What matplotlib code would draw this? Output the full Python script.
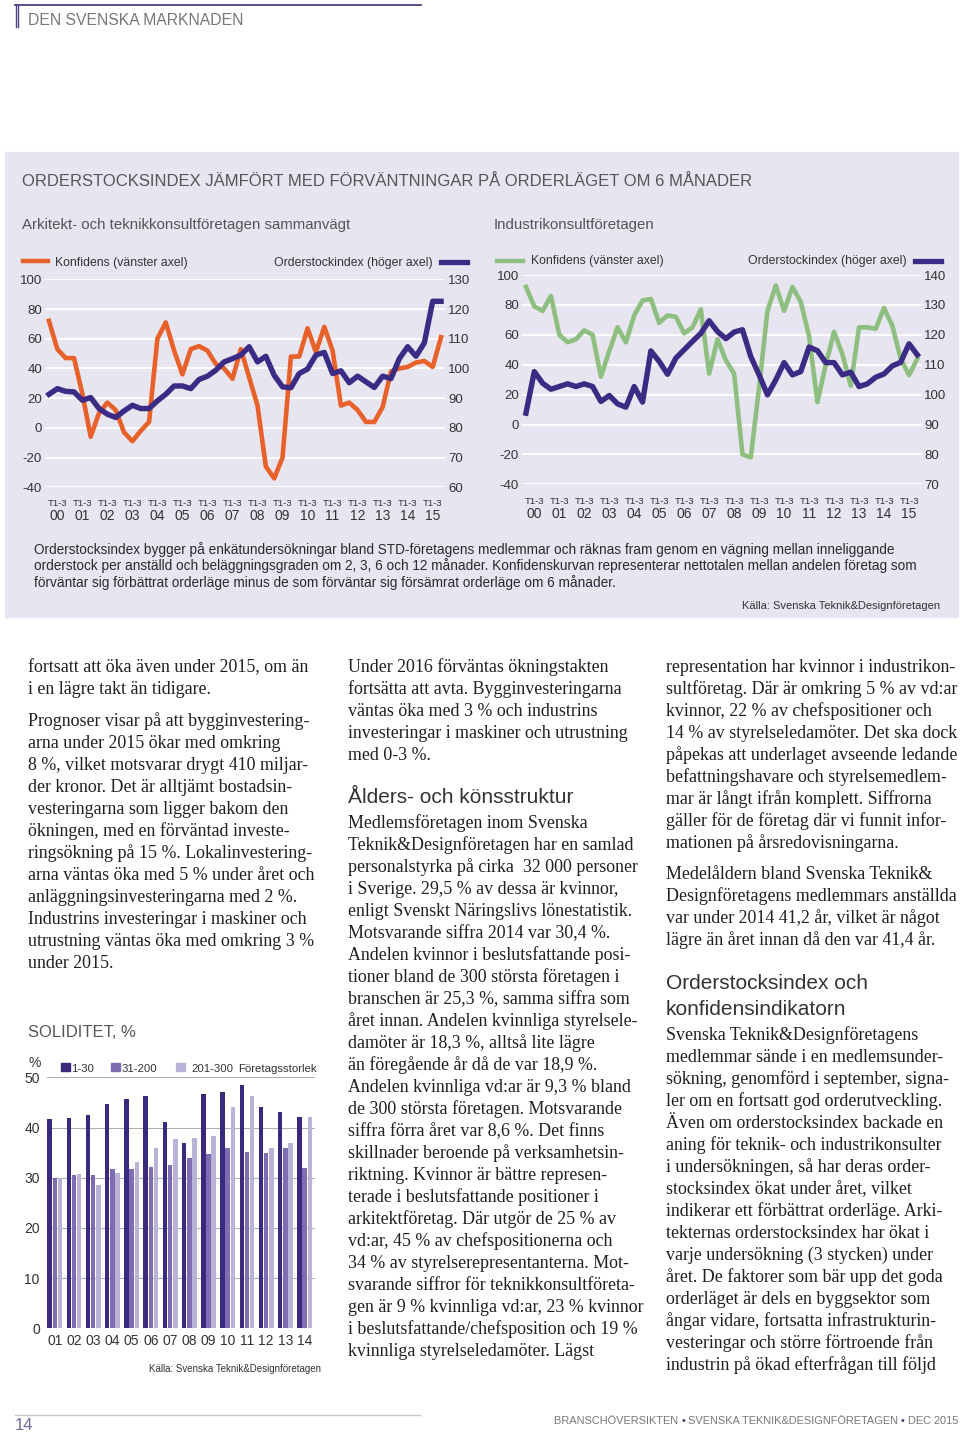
"""
Sida 14: orderstocksindex/konfidens (två linjediagram), soliditet (stapeldiagram) och brödtext
"""

import numpy as np
import matplotlib.pyplot as plt
from matplotlib.patches import Rectangle
from matplotlib.lines import Line2D
from matplotlib import transforms
from matplotlib.offsetbox import TextArea, HPacker, AnnotationBbox

plt.rcParams['axes.unicode_minus'] = False

# ─────────────────────────────────────────────
# Data (avläst ur diagrammen)
# ─────────────────────────────────────────────
years = ['00', '01', '02', '03', '04', '05', '06', '07',
         '08', '09', '10', '11', '12', '13', '14', '15']
tertial = 'T1-3'

# Arkitekt- och teknikkonsultföretagen sammanvägt
konf_ark = [72, 53, 47, 47, 23, -6, 10, 17, 12, -3, -9, -2,
            4, 60, 71, 52, 36, 53, 55, 52, 43, 40, 33, 53,
            34, 15, -26, -34, -20, 48, 48, 67, 51, 68, 52, 15,
            17, 12, 4, 4, 14, 38, 40, 41, 44, 45, 41, 61]
order_ark = [91.3, 93.2, 92.3, 92.1, 89.3, 90.2, 86.5, 84.6, 83.5, 85.7, 87.6, 86.5,
             86.5, 89.1, 91.3, 94.1, 94.1, 93.2, 96.3, 97.4, 99.4, 102.2, 103.3, 104.5,
             107.3, 102.2, 104.1, 97.7, 93.8, 93.5, 98.3, 99.8, 104.5, 105.4, 98.3, 99.2,
             95.2, 97.4, 95.5, 93.6, 97.4, 96.6, 103.3, 107.3, 104.1, 108.6, 122.6, 122.6]

# Industrikonsultföretagen
konf_ind = [92, 79, 76, 86, 60, 55, 57, 63, 60, 32, 49, 65,
            55, 73, 83, 84, 68, 73, 72, 61, 65, 77, 34, 57,
            43, 34, -20, -22, 25, 76, 93, 76, 92, 82, 59, 15,
            40, 62, 47, 26, 65, 65, 64, 78, 66, 44, 33, 44]
order_ind = [93.8, 107.7, 103.8, 101.8, 102.7, 103.6, 102.7, 103.6, 102.7, 97.7, 99.7, 96.9,
             95.8, 102.7, 97.5, 114.6, 111.1, 106.8, 112.2, 115.0, 117.8, 120.5, 124.7, 121.1,
             118.7, 120.9, 121.7, 112.7, 106.6, 99.9, 104.9, 110.7, 106.6, 107.7, 115.9, 114.7,
             110.7, 110.7, 106.6, 107.5, 102.7, 103.6, 105.8, 106.9, 109.6, 110.8, 117.0, 113.3]

# Soliditet, % per företagsstorlek
sol_years = ['01', '02', '03', '04', '05', '06', '07',
             '08', '09', '10', '11', '12', '13', '14']
sol_small = [41.6, 41.9, 42.5, 44.7, 45.6, 46.2, 41.0, 37.0, 46.6, 47.0, 48.4, 44.0, 43.0, 42.0]
sol_mid = [30.0, 30.5, 30.6, 31.8, 31.7, 32.1, 32.5, 34.0, 34.8, 36.0, 35.2, 35.0, 36.0, 32.0]
sol_large = [30.0, 30.8, 28.6, 31.0, 33.2, 35.9, 37.8, 38.0, 38.3, 44.0, 46.2, 36.0, 37.0, 42.0]
sol_labels = ['1-30', '31-200', '201-300']

# ─────────────────────────────────────────────
# Färger, typsnitt, hjälpfunktioner
# ─────────────────────────────────────────────
SANS = 'Liberation Sans'
SERIF = 'Liberation Serif'
BG = '#e7e5f0'
ORANGE = '#e8602a'
GREEN = '#8fbf80'
BLUE = '#3b2b84'
PURPLE = '#4a4485'
BAR_COLORS = ['#3b2a7c', '#7c6eb1', '#bab3d7']
TXT = '#231f20'
GREY = '#555555'

W, H = 960, 1436
fig = plt.figure(figsize=(W / 100, H / 100), dpi=100)


def ftext(x, yc, s, size, color=GREY, ha='left', family=SANS, **kw):
    # yc = visuellt mitt på raden (px från toppen) -> baslinje
    base = yc + 0.34 * size * 100 / 72
    return fig.text(x / W, 1 - base / H, s, fontsize=size, color=color, ha=ha,
                    va='baseline', family=family, **kw)


def fline(xs, ys, color, lw):
    fig.add_artist(Line2D([x / W for x in xs], [1 - y / H for y in ys],
                          color=color, lw=lw, transform=fig.transFigure))


def px_axes(x0, y0, x1, y1):
    return fig.add_axes([x0 / W, 1 - y1 / H, (x1 - x0) / W, (y1 - y0) / H])


# ─────────────────────────────────────────────
# Sidhuvud
# ─────────────────────────────────────────────
fline([15, 421], [5, 5], PURPLE, 1.3)
fline([15.5, 15.5], [5, 27], PURPLE, 1.0)
fline([18, 18], [5, 27], PURPLE, 1.0)
ftext(28, 20, 'DEN SVENSKA MARKNADEN', 11.3, color='#777777')

# ─────────────────────────────────────────────
# Panel med linjediagrammen
# ─────────────────────────────────────────────
fig.patches.append(Rectangle((5 / W, 1 - 617 / H), (958 - 5) / W, (617 - 152) / H,
                             transform=fig.transFigure, color=BG, zorder=-1))
ftext(22, 180, 'ORDERSTOCKSINDEX JÄMFÖRT MED FÖRVÄNTNINGAR PÅ ORDERLÄGET OM 6 MÅNADER',
      12.0, color=GREY)
ftext(22, 224, 'Arkitekt- och teknikkonsultföretagen sammanvägt', 10.8, color=GREY)
ftext(494, 224, 'Industrikonsultföretagen', 10.8, color=GREY)


def line_chart(box, konf, order, konf_color, right_lim, right_ticks, label_y):
    ax = px_axes(*box)
    ax.set_facecolor('none')
    x = np.arange(len(konf))
    ax.plot(x, konf, color=konf_color, lw=3.3, solid_joinstyle='round', clip_on=False)
    ax.set_xlim(-0.5, len(konf) - 0.5)
    ax.set_ylim(-40, 100)
    ax.set_yticks(range(-40, 101, 20))
    ax.set_xticks([])
    ax.grid(axis='y', color='white', lw=1.3)
    ax.set_axisbelow(True)
    ax.tick_params(length=0, labelsize=9.5, pad=2, labelcolor='#333333')
    for s in ax.spines.values():
        s.set_visible(False)
    for t in ax.get_yticklabels():
        t.set_family(SANS)

    ax2 = ax.twinx()
    ax2.plot(x, order, color=BLUE, lw=3.9, solid_joinstyle='round', clip_on=False)
    ax2.set_ylim(*right_lim)
    ax2.set_yticks(right_ticks)
    ax2.tick_params(length=0, labelsize=9.5, pad=2, labelcolor='#333333')
    for s in ax2.spines.values():
        s.set_visible(False)
    for t in ax2.get_yticklabels():
        t.set_family(SANS)

    tr = transforms.blended_transform_factory(ax.transData, fig.transFigure)
    for k, yr in enumerate(years):
        ax.text(3 * k + 1, 1 - (label_y + 2) / H, tertial, transform=tr, ha='center',
                va='center', fontsize=6.8, color='#333333', family=SANS)
        ax.text(3 * k + 1, 1 - (label_y + 15) / H, yr, transform=tr, ha='center',
                va='center', fontsize=10, color='#333333', family=SANS)
    return ax


line_chart((44.8, 279.3, 445.2, 487.3), konf_ark, order_ark, ORANGE,
           (60, 130), range(60, 131, 10), 501)
line_chart((521.8, 275.0, 921.5, 484.3), konf_ind, order_ind, GREEN,
           (70, 140), range(70, 141, 10), 499)

# legender
fline([23, 48], [261, 261], ORANGE, 3.2)
ftext(55, 262, 'Konfidens (vänster axel)', 8.8, color='#333333')
ftext(433, 262, 'Orderstockindex (höger axel)', 8.8, color='#333333', ha='right')
fline([441, 467], [262, 262], BLUE, 3.8)

fline([497, 523], [261, 261], GREEN, 3.2)
ftext(531, 260, 'Konfidens (vänster axel)', 8.8, color='#333333')
ftext(907, 260, 'Orderstockindex (höger axel)', 8.8, color='#333333', ha='right')
fline([915, 941], [261, 261], BLUE, 3.8)

caption = ['Orderstocksindex bygger på enkätundersökningar bland STD-företagens medlemmar och '
           'räknas fram genom en vägning mellan inneliggande',
           'orderstock per anställd och beläggningsgraden om 2, 3, 6 och 12 månader. '
           'Konfidenskurvan representerar nettotalen mellan andelen företag som',
           'förväntar sig förbättrat orderläge minus de som förväntar sig försämrat orderläge om 6 månader.']
for i, line in enumerate(caption):
    ftext(34, 549 + 16.5 * i, line, 9.8, color='#2a2a2a')
ftext(940, 605, 'Källa: Svenska Teknik&Designföretagen', 8.0, color='#333333', ha='right')

# ─────────────────────────────────────────────
# Soliditet (stapeldiagram)
# ─────────────────────────────────────────────
ftext(28, 1031, 'SOLIDITET, %', 12, color=GREY)
axb = px_axes(46.7, 1077.3, 315, 1328.3)
xb = np.arange(len(sol_years))
for off, vals, col in zip([-0.27, 0, 0.27], [sol_small, sol_mid, sol_large], BAR_COLORS):
    axb.bar(xb + off, vals, 0.235, color=col, zorder=3)
axb.set_xlim(-0.42, len(sol_years) - 1 + 0.54)
axb.set_ylim(0, 50)
axb.set_yticks(range(0, 51, 10))
axb.set_xticks(xb)
axb.set_xticklabels(sol_years)
axb.grid(axis='y', color='#b0b0b0', lw=0.8, zorder=0)
axb.set_axisbelow(True)
axb.tick_params(length=0, labelsize=10, labelcolor='#333333')
axb.tick_params(axis='y', pad=5)
axb.tick_params(axis='x', pad=4)
for t in axb.get_xticklabels() + axb.get_yticklabels():
    t.set_family(SANS)
for s in axb.spines.values():
    s.set_visible(False)
ftext(35, 1062, '%', 10, color='#333333', ha='center')

leg_x = [61, 111, 176]
leg_tx = [71, 122, 191]
for lx, tx, col, lab in zip(leg_x, leg_tx, BAR_COLORS, sol_labels):
    fig.patches.append(Rectangle((lx / W, 1 - 1071 / H), 9 / W, 8 / H,
                                 transform=fig.transFigure, color=col))
    ftext(tx, 1068, lab, 8.2, color='#333333')
ftext(238, 1068, 'Företagsstorlek', 8.2, color='#333333')
ftext(321, 1369, 'Källa: Svenska Teknik&Designföretagen', 7.0, color='#333333', ha='right')

# ─────────────────────────────────────────────
# Brödtext (tre spalter)
# ─────────────────────────────────────────────
BODY = 12.9
LEAD = 22


def paragraph(x, y0, lines):
    for i, line in enumerate(lines):
        ftext(x, y0 + LEAD * i, line, BODY, color=TXT, family=SERIF)


paragraph(28, 666, ['fortsatt att öka även under 2015, om än',
                    'i en lägre takt än tidigare.'])
paragraph(28, 720, ['Prognoser visar på att bygginvestering-',
                    'arna under 2015 ökar med omkring',
                    '8 %, vilket motsvarar drygt 410 miljar-',
                    'der kronor. Det är alltjämt bostadsin-',
                    'vesteringarna som ligger bakom den',
                    'ökningen, med en förväntad investe-',
                    'ringsökning på 15 %. Lokalinvestering-',
                    'arna väntas öka med 5 % under året och',
                    'anläggningsinvesteringarna med 2 %.',
                    'Industrins investeringar i maskiner och',
                    'utrustning väntas öka med omkring 3 %',
                    'under 2015.'])

paragraph(348, 666, ['Under 2016 förväntas ökningstakten',
                     'fortsätta att avta. Bygginvesteringarna',
                     'väntas öka med 3 % och industrins',
                     'investeringar i maskiner och utrustning',
                     'med 0-3 %.'])
ftext(348, 796, 'Ålders- och könsstruktur', 15, color='#333333')
paragraph(348, 822, ['Medlemsföretagen inom Svenska',
                     'Teknik&Designföretagen har en samlad',
                     'personalstyrka på cirka  32 000 personer',
                     'i Sverige. 29,5 % av dessa är kvinnor,',
                     'enligt Svenskt Näringslivs lönestatistik.',
                     'Motsvarande siffra 2014 var 30,4 %.',
                     'Andelen kvinnor i beslutsfattande posi-',
                     'tioner bland de 300 största företagen i',
                     'branschen är 25,3 %, samma siffra som',
                     'året innan. Andelen kvinnliga styrelsele-',
                     'damöter är 18,3 %, alltså lite lägre',
                     'än föregående år då de var 18,9 %.',
                     'Andelen kvinnliga vd:ar är 9,3 % bland',
                     'de 300 största företagen. Motsvarande',
                     'siffra förra året var 8,6 %. Det finns',
                     'skillnader beroende på verksamhetsin-',
                     'riktning. Kvinnor är bättre represen-',
                     'terade i beslutsfattande positioner i',
                     'arkitektföretag. Där utgör de 25 % av',
                     'vd:ar, 45 % av chefspositionerna och',
                     '34 % av styrelserepresentanterna. Mot-',
                     'svarande siffror för teknikkonsultföreta-',
                     'gen är 9 % kvinnliga vd:ar, 23 % kvinnor',
                     'i beslutsfattande/chefsposition och 19 %',
                     'kvinnliga styrelseledamöter. Lägst'])

paragraph(666, 666, ['representation har kvinnor i industrikon-',
                     'sultföretag. Där är omkring 5 % av vd:ar',
                     'kvinnor, 22 % av chefspositioner och',
                     '14 % av styrelseledamöter. Det ska dock',
                     'påpekas att underlaget avseende ledande',
                     'befattningshavare och styrelsemedlem-',
                     'mar är långt ifrån komplett. Siffrorna',
                     'gäller för de företag där vi funnit infor-',
                     'mationen på årsredovisningarna.'])
paragraph(666, 873, ['Medelåldern bland Svenska Teknik&',
                     'Designföretagens medlemmars anställda',
                     'var under 2014 41,2 år, vilket är något',
                     'lägre än året innan då den var 41,4 år.'])
ftext(666, 982, 'Orderstocksindex och', 15, color='#333333')
ftext(666, 1008, 'konfidensindikatorn', 15, color='#333333')
paragraph(666, 1034, ['Svenska Teknik&Designföretagens',
                      'medlemmar sände i en medlemsunder-',
                      'sökning, genomförd i september, signa-',
                      'ler om en fortsatt god orderutveckling.',
                      'Även om orderstocksindex backade en',
                      'aning för teknik- och industrikonsulter',
                      'i undersökningen, så har deras order-',
                      'stocksindex ökat under året, vilket',
                      'indikerar ett förbättrat orderläge. Arki-',
                      'tekternas orderstocksindex har ökat i',
                      'varje undersökning (3 stycken) under',
                      'året. De faktorer som bär upp det goda',
                      'orderläget är dels en byggsektor som',
                      'ångar vidare, fortsatta infrastrukturin-',
                      'vesteringar och större förtroende från',
                      'industrin på ökad efterfrågan till följd'])

# ─────────────────────────────────────────────
# Sidfot
# ─────────────────────────────────────────────
fline([15, 420], [1415, 1415], '#c8c8c8', 1.0)
ftext(15, 1424, '14', 12, color='#6f6c9e')
parts = [('BRANSCHÖVERSIKTEN ', '#777777'), ('•', PURPLE),
         (' SVENSKA TEKNIK&DESIGNFÖRETAGEN ', '#777777'), ('•', PURPLE),
         (' DEC 2015', '#777777')]
pack = HPacker(children=[TextArea(s, textprops=dict(color=c, fontsize=7.9, family=SANS))
                         for s, c in parts], sep=0, pad=0, align='baseline')
ab = AnnotationBbox(pack, (958 / W, 1 - 1421 / H), xycoords='figure fraction',
                    box_alignment=(1, 0.5), frameon=False, pad=0)
fig.add_artist(ab)

plt.savefig('out.png', dpi=100)
